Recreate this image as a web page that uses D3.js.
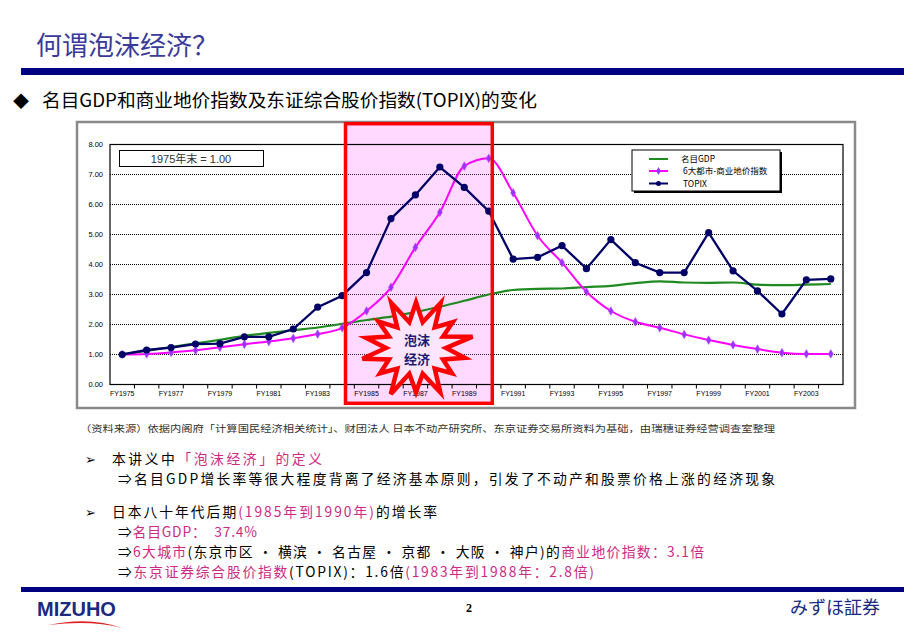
<!DOCTYPE html>
<html><head><meta charset="utf-8">
<script src="https://cdn.jsdelivr.net/npm/d3@7"></script>
<style>body{margin:0;background:#fff}svg{display:block}</style>
</head><body>
<svg id="c" width="920" height="636"></svg>
<script>
const years = d3.range(1975, 2005);
const gdp = [1.00,1.12,1.25,1.37,1.49,1.62,1.72,1.81,1.90,2.02,2.15,2.26,2.41,2.59,2.79,3.00,3.15,3.19,3.20,3.25,3.29,3.38,3.44,3.40,3.39,3.40,3.33,3.31,3.33,3.35];
const land = [1.00,1.02,1.07,1.14,1.24,1.34,1.43,1.54,1.68,1.89,2.45,3.24,4.57,5.74,7.28,7.54,6.39,4.96,4.06,3.09,2.45,2.09,1.89,1.67,1.48,1.32,1.18,1.06,1.02,1.02];
const topix = [1.00,1.15,1.23,1.35,1.36,1.59,1.59,1.85,2.58,2.96,3.73,5.53,6.32,7.25,6.57,5.78,4.18,4.24,4.63,3.86,4.83,4.06,3.73,3.73,5.06,3.79,3.12,2.35,3.49,3.52];
const yTicks = [0,1,2,3,4,5,6,7,8];
const seriesNames = ["名目GDP","6大都市-商业地价指数","TOPIX"];

const svg = d3.select("#c");
const CJK = "'Noto Sans CJK SC','Noto Sans',sans-serif";
const navy = "#000080", pinkT = "#cc2a84";

// header
svg.append("text").attr("x",36).attr("y",55).attr("font-family",CJK).attr("font-size",26)
  .attr("fill","#3a3a9a").text("何谓泡沫经济？");
svg.append("rect").attr("x",21).attr("y",68).attr("width",883).attr("height",7).attr("fill",navy);
svg.append("text").attr("x",13).attr("y",107).attr("font-family",CJK).attr("font-size",16).attr("fill","#000").text("◆");
svg.append("text").attr("x",42).attr("y",107).attr("font-family",CJK).attr("font-size",18)
  .attr("fill","#000").attr("textLength",495).attr("lengthAdjust","spacingAndGlyphs")
  .text("名目GDP和商业地价指数及东证综合股价指数(TOPIX)的变化");

// chart frame
svg.append("rect").attr("x",77).attr("y",122).attr("width",778).attr("height",286)
  .attr("fill","#fff").attr("stroke","#8a8a8a").attr("stroke-width",2.5);

const L=110,R=843,T=144.5,B=384.5;
const x = d3.scaleBand().domain(years).range([L,R]).padding(0);
const cx = d => x(d)+x.bandwidth()/2;
const y = d3.scaleLinear().domain([0,8]).range([B,T]);

// grid
svg.append("g").selectAll("line").data(yTicks.filter(v=>v>0&&v<8)).join("line")
  .attr("x1",L).attr("x2",R).attr("y1",d=>y(d)).attr("y2",d=>y(d))
  .attr("stroke","#000").attr("stroke-width",1).attr("stroke-dasharray","1,1");

// bubble shading
const rx0 = 345.5, rx1 = 492.3;
svg.append("rect").attr("x",rx0).attr("y",123.7).attr("width",rx1-rx0).attr("height",403.3-123.7)
  .attr("fill","#ff66ff").attr("fill-opacity",0.25);

// plot border
svg.append("rect").attr("x",L).attr("y",T).attr("width",R-L).attr("height",B-T)
  .attr("fill","none").attr("stroke","#000").attr("stroke-width",1.2);

// axes
const yAxis = d3.axisLeft(y).tickValues(yTicks).tickFormat(d3.format(".2f")).tickSize(0).tickPadding(7);
svg.append("g").attr("transform",`translate(${L},0)`).call(yAxis)
  .call(g=>g.select(".domain").remove())
  .selectAll("text").attr("font-family","Arial,'Liberation Sans',sans-serif").attr("font-size",7.5).attr("fill","#000");
const xAxis = d3.axisBottom(x).tickFormat((d,i)=> i%2===0 ? "FY"+d : "").tickSize(0).tickPadding(7);
svg.append("g").attr("transform",`translate(0,${B})`).call(xAxis)
  .call(g=>g.select(".domain").remove())
  .selectAll("text").attr("font-family","Arial,'Liberation Sans',sans-serif").attr("font-size",7).attr("fill","#000");
svg.append("g").selectAll("line").data(years.slice(1)).join("line")
  .attr("x1",d=>x(d)).attr("x2",d=>x(d)).attr("y1",B).attr("y2",B+4).attr("stroke","#000");

// lines
const lineS = d3.line().x((d,i)=>cx(years[i])).y(d=>y(d)).curve(d3.curveMonotoneX);
const lineL = d3.line().x((d,i)=>cx(years[i])).y(d=>y(d));
svg.append("path").attr("d",lineS(gdp)).attr("fill","none").attr("stroke","#1f8a1f").attr("stroke-width",2.2);
svg.append("path").attr("d",lineS(land)).attr("fill","none").attr("stroke","#ff00ff").attr("stroke-width",2);
svg.append("g").selectAll("path").data(land).join("path")
  .attr("d",d3.symbol(d3.symbolDiamond,22)()).attr("transform",(d,i)=>`translate(${cx(years[i])},${y(d)})`)
  .attr("fill","#9933ff").attr("stroke","#cc44ff").attr("stroke-width",0.5);
svg.append("path").attr("d",lineL(topix)).attr("fill","none").attr("stroke","#000066").attr("stroke-width",2.3);
svg.append("g").selectAll("circle").data(topix).join("circle")
  .attr("cx",(d,i)=>cx(years[i])).attr("cy",d=>y(d)).attr("r",3.6).attr("fill","#000066");

// red rectangle outline
svg.append("rect").attr("x",rx0).attr("y",123.7).attr("width",rx1-rx0).attr("height",403.3-123.7)
  .attr("fill","none").attr("stroke","#ff0000").attr("stroke-width",3.5);

// starburst
const outer=[52,57,47,58,50,46,56,50,58,46,55,51,48,57];
const pts=[];
for(let i=0;i<28;i++){
  const a=(-90+i*360/28)*Math.PI/180;
  const r = i%2===0 ? outer[i/2] : 30;
  pts.push([416+Math.cos(a)*r*1.0, 348+Math.sin(a)*r*0.88]);
}
svg.append("path").attr("d","M"+pts.map(p=>p.join(",")).join("L")+"Z")
  .attr("fill","#fde6fd").attr("stroke","#ff0000").attr("stroke-width",4.5).attr("stroke-linejoin","miter");
svg.append("text").attr("x",417).attr("y",345).attr("text-anchor","middle").attr("font-family",CJK)
  .attr("font-size",13).attr("font-weight","bold").attr("fill","#1a1a70").text("泡沫");
svg.append("text").attr("x",417).attr("y",364).attr("text-anchor","middle").attr("font-family",CJK)
  .attr("font-size",13).attr("font-weight","bold").attr("fill","#1a1a70").text("经济");

// base note box
svg.append("rect").attr("x",119.5).attr("y",150.5).attr("width",144).attr("height",16)
  .attr("fill","#fff").attr("stroke","#000");
svg.append("text").attr("x",191).attr("y",162.5).attr("text-anchor","middle")
  .attr("font-family","Arial,'Liberation Sans',"+CJK).attr("font-size",11).attr("fill","#333").text("1975年末 = 1.00");

// legend
svg.append("rect").attr("x",634).attr("y",152).attr("width",148).attr("height",41).attr("fill","#000");
svg.append("rect").attr("x",632).attr("y",150).attr("width",148).attr("height",41).attr("fill","#fff").attr("stroke","#000");
const legY=[159,171,183.5];
const legCol=["#1f8a1f","#ff00ff","#000066"];
const lg = svg.append("g");
seriesNames.forEach((n,i)=>{
  lg.append("line").attr("x1",649).attr("x2",668).attr("y1",legY[i]).attr("y2",legY[i]).attr("stroke",legCol[i]).attr("stroke-width",2);
  if(i===1) lg.append("path").attr("d",d3.symbol(d3.symbolDiamond,18)()).attr("transform",`translate(658.5,${legY[i]})`).attr("fill","#9933ff");
  if(i===2) lg.append("circle").attr("cx",658.5).attr("cy",legY[i]).attr("r",2.5).attr("fill","#000066");
  lg.append("text").attr("x",i===0?681:683).attr("y",legY[i]+3).attr("font-family",CJK).attr("font-size",8.5).attr("fill","#000").text(n);
});

// source note
svg.append("text").attr("x",80).attr("y",432).attr("font-family",CJK).attr("font-size",9.5).attr("fill","#333")
  .attr("textLength",695).attr("lengthAdjust","spacingAndGlyphs")
  .text("（资料来源）依据内阁府「计算国民经济相关统计」、财团法人 日本不动产研究所、东京证券交易所资料为基础，由瑞穗证券经营调查室整理");

// bullets
function rich(xp, yp, len, parts){
  const t = svg.append("text").attr("x",xp).attr("y",yp).attr("font-family",CJK).attr("font-size",13.8)
    .attr("textLength",len).attr("lengthAdjust","spacing");
  parts.forEach(p=>t.append("tspan").attr("fill",p[1]?pinkT:"#000").text(p[0]));
}
svg.append("text").attr("x",85).attr("y",464).attr("font-family","'DejaVu Sans',sans-serif").attr("font-size",13).text("➢");
svg.append("text").attr("x",85).attr("y",517).attr("font-family","'DejaVu Sans',sans-serif").attr("font-size",13).text("➢");
rich(112,464,210,[["本讲义中",0],["「泡沫经济」的定义",1]]);
rich(118,484,657,[["⇒名目GDP增长率等很大程度背离了经济基本原则，引发了不动产和股票价格上涨的经济现象",0]]);
rich(112,517,325,[["日本八十年代后期",0],["(1985年到1990年)",1],["的增长率",0]]);
rich(118,537,139,[["⇒",0],["名目GDP：　37.4%",1]]);
rich(118,557,586,[["⇒",0],["6大城市",1],["(东京市区 · 横滨 · 名古屋 · 京都 · 大阪 · 神户)的",0],["商业地价指数：3.1倍",1]]);
rich(118,577,476,[["⇒",0],["东京证券综合股价指数",1],["(TOPIX)：1.6倍",0],["(1983年到1988年：2.8倍)",1]]);

// footer
svg.append("rect").attr("x",21).attr("y",587).attr("width",883).attr("height",5).attr("fill",navy);
svg.append("text").attr("x",37).attr("y",616).attr("font-family","'Liberation Sans Narrow','Arial Narrow',Arial,sans-serif")
  .attr("font-size",20).attr("font-weight","bold").attr("fill","#1a2a80").text("MIZUHO");
svg.append("path").attr("d","M48,625 Q90,616 122,628 Q92,620 48,625Z").attr("fill","#e02020");
svg.append("text").attr("x",466).attr("y",612).attr("font-family","'Liberation Serif',serif").attr("font-size",12).attr("font-weight","bold").text("2");
svg.append("text").attr("x",790).attr("y",614).attr("font-family",CJK).attr("font-size",18).attr("fill","#1a2a80").text("みずほ証券");
</script>
</body></html>
